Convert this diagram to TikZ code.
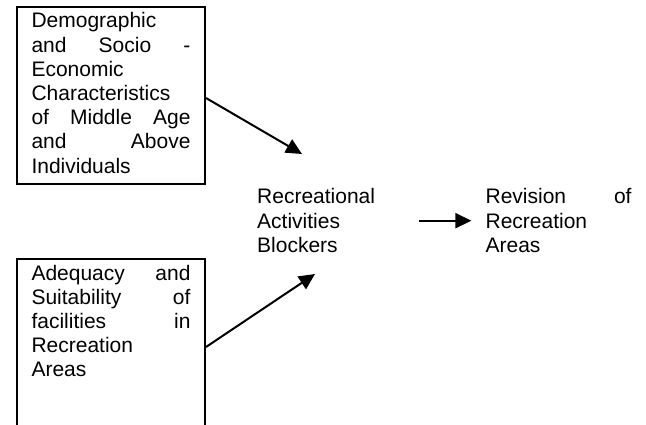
\documentclass[tikz,border=0pt]{standalone}
\usepackage{fontspec}
\setmainfont{Liberation Sans}
\usetikzlibrary{positioning,arrows.meta}

\begin{document}
\begin{tikzpicture}[x=1pt,y=-1pt,node distance=98pt,
    txt/.style={inner sep=0pt, align=left, font=\fontsize{21}{24.2}\selectfont},
    box/.style={txt, draw, line width=2pt, text width=159pt, inner xsep=14.5pt, inner ysep=4.5pt, text height=16.5pt, anchor=north west},
    arr/.style={-{Triangle[length=16pt,width=15pt]}, line width=2pt}]
    \path[use as bounding box, clip] (0,0) rectangle (646,425);
    \node[box, text depth=151.5pt] (demo) at (16,6) {Demographic\\and\hfill Socio\hfill -\\Economic\\Characteristics\\of\hfill Middle\hfill Age\\and\hfill Above\\Individuals};
    \node[box, text depth=180pt] (facil) at (16,258) {Adequacy\hfill and\\Suitability\hfill of\\facilities\hfill in\\Recreation\\Areas};
    \node[txt, text width=130pt, anchor=base west] (blockers) at (257,204) {Recreational\\Activities\\Blockers};
    \node[txt, text width=146pt, right=98pt of blockers] (revision) {Revision\hfill of\\Recreation\\Areas};
    \draw[arr] ([yshift=-2.5pt]demo.east) -- ([xshift=45pt,yshift=50pt]blockers.base west);
    \draw[arr] ([yshift=-89pt]facil.north east) -- ([xshift=58pt,yshift=-70pt]blockers.base west);
    \draw[arr] ([xshift=32pt]blockers.east) -- ([xshift=-14pt]revision.west);
\end{tikzpicture}
\end{document}
